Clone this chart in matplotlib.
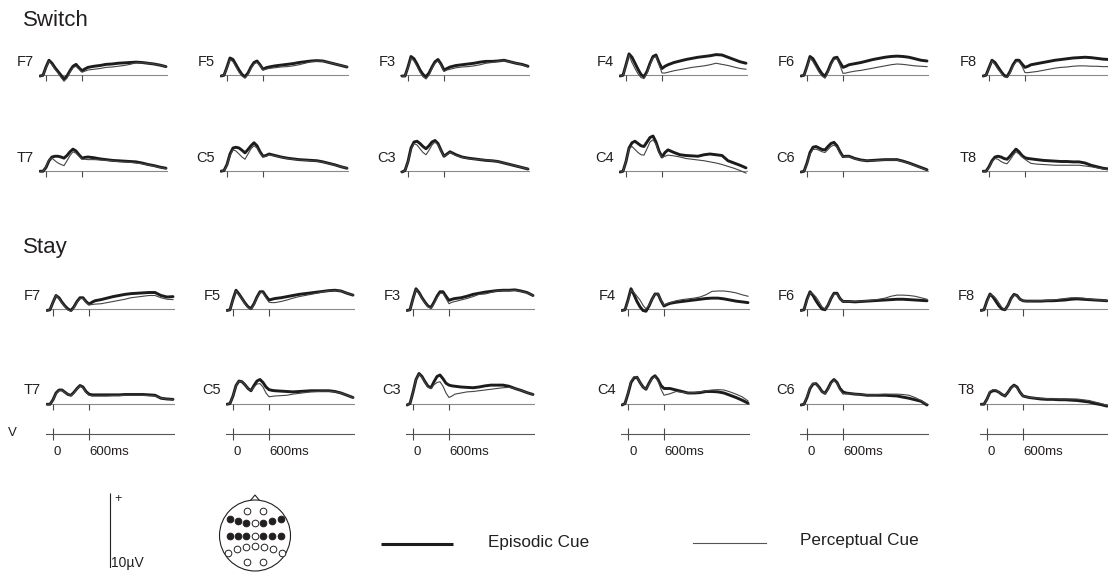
import matplotlib
matplotlib.use('Agg')
import matplotlib.pyplot as plt
from matplotlib.patches import Circle, Polygon

plt.rcParams['font.family'] = ['Liberation Sans', 'DejaVu Sans']

# ---------------- data (µV, positive up) ----------------
times = [-100, -50, 0, 50, 100, 150, 200, 250, 300, 350, 400, 450, 500, 550, 600,
         650, 700, 800, 900, 1000, 1100, 1200, 1300, 1400, 1500, 1600, 1700, 1800, 1900, 2000]

conditions = ['Switch', 'Stay']
frontal_channels = ['F7', 'F5', 'F3', 'F4', 'F6', 'F8']
central_channels = ['T7', 'C5', 'C3', 'C4', 'C6', 'T8']
cue_labels = ['Episodic Cue', 'Perceptual Cue']
time_tick_labels = ['0', '600ms']
time_ticks = [0, 600]
scale_bar_uv = 10

# Switch, frontal row
sw_F7_epi = [-0.2,-0.1,1.0,1.9,1.5,0.9,0.4,-0.1,-0.6,-0.2,0.5,1.1,1.35,0.9,0.5,0.75,0.95,1.1,1.2,1.35,1.4,1.5,1.55,1.6,1.65,1.6,1.5,1.4,1.25,1.05]
sw_F7_per = [-0.2,-0.1,0.9,1.8,1.3,0.7,0.2,-0.4,-0.9,-0.5,0.3,0.9,1.1,0.7,0.3,0.45,0.6,0.7,0.8,0.95,1.0,1.1,1.2,1.35,1.55,1.55,1.5,1.4,1.25,1.05]
sw_F5_epi = [-0.2,-0.1,1.0,2.2,2.0,1.3,0.6,0.0,-0.3,0.2,1.0,1.6,1.8,1.3,0.7,0.9,1.0,1.15,1.25,1.35,1.45,1.6,1.7,1.8,1.85,1.8,1.6,1.4,1.2,1.0]
sw_F5_per = [-0.2,-0.1,0.9,2.0,1.7,1.0,0.3,-0.2,-0.5,0.0,0.8,1.4,1.6,1.2,0.6,0.7,0.8,0.9,1.0,1.05,1.15,1.3,1.5,1.7,1.8,1.75,1.6,1.4,1.2,1.0]
sw_F3_epi = [-0.2,-0.2,1.0,2.4,2.1,1.4,0.6,0.0,-0.3,0.2,1.0,1.7,2.0,1.4,0.6,0.8,1.0,1.2,1.3,1.4,1.5,1.65,1.75,1.75,1.8,1.9,1.7,1.5,1.35,1.1]
sw_F3_per = [-0.2,-0.2,0.9,2.2,1.8,1.1,0.3,-0.3,-0.6,-0.1,0.8,1.5,1.8,1.2,0.4,0.6,0.7,0.9,1.0,1.05,1.15,1.3,1.5,1.6,1.75,1.85,1.7,1.5,1.3,1.0]
sw_F4_epi = [-0.2,-0.1,1.3,2.75,2.3,1.5,0.7,0.0,-0.3,0.4,1.5,2.4,2.6,1.6,0.8,1.1,1.3,1.6,1.8,2.0,2.15,2.3,2.4,2.5,2.65,2.6,2.3,2.0,1.7,1.5]
sw_F4_per = [-0.2,-0.1,1.2,2.6,1.6,0.8,0.1,-0.4,-0.55,0.2,1.3,2.2,2.4,1.3,0.2,0.2,0.3,0.5,0.65,0.8,0.95,1.05,1.15,1.3,1.5,1.35,1.2,1.0,0.8,0.7]
sw_F6_epi = [-0.2,-0.1,1.1,2.4,2.1,1.4,0.7,0.1,-0.25,0.5,1.5,2.2,2.3,1.6,0.95,1.1,1.3,1.45,1.6,1.8,2.0,2.15,2.3,2.4,2.45,2.4,2.3,2.1,1.9,1.8]
sw_F6_per = [-0.2,-0.1,1.0,2.2,1.7,1.0,0.3,-0.2,-0.5,0.3,1.3,2.0,2.1,1.2,0.15,0.2,0.3,0.45,0.55,0.7,0.85,1.0,1.15,1.3,1.4,1.35,1.25,1.15,1.1,1.05]
sw_F8_epi = [-0.2,-0.1,0.9,1.9,1.6,1.0,0.4,-0.1,-0.3,0.4,1.3,1.9,1.9,1.4,0.95,1.1,1.3,1.45,1.6,1.75,1.9,2.0,2.1,2.2,2.25,2.3,2.25,2.15,2.05,2.0]
sw_F8_per = [-0.2,-0.1,0.8,1.8,1.3,0.7,0.2,-0.3,-0.4,0.2,1.1,1.7,1.7,1.1,0.25,0.25,0.3,0.4,0.55,0.7,0.85,0.95,1.0,1.1,1.15,1.15,1.1,1.1,1.05,1.05]

# Switch, central/temporal row
sw_T7_epi = [-0.1,-0.1,0.4,1.3,1.8,1.9,1.9,1.8,1.65,2.0,2.5,2.85,2.6,2.1,1.65,1.75,1.8,1.7,1.55,1.45,1.35,1.3,1.25,1.2,1.15,1.0,0.8,0.65,0.45,0.3]
sw_T7_per = [-0.1,-0.1,0.5,1.4,1.65,1.3,1.0,0.8,0.65,1.3,2.0,2.5,2.3,1.9,1.5,1.5,1.45,1.45,1.4,1.35,1.3,1.2,1.15,1.1,1.0,0.9,0.75,0.6,0.4,0.25]
sw_C5_epi = [-0.1,0.0,0.8,2.2,3.0,3.1,3.0,2.7,2.35,2.8,3.3,3.7,3.3,2.5,1.9,2.0,2.2,2.0,1.8,1.65,1.55,1.45,1.4,1.35,1.3,1.15,0.95,0.75,0.5,0.3]
sw_C5_per = [-0.1,0.0,0.7,2.0,2.75,2.6,2.2,1.8,1.5,2.2,2.9,3.3,3.0,2.3,1.8,1.9,2.1,1.95,1.75,1.6,1.5,1.4,1.35,1.3,1.25,1.1,0.9,0.7,0.5,0.3]
sw_C3_epi = [-0.2,0.0,1.2,3.0,3.8,3.9,3.6,3.2,2.9,3.3,3.8,4.0,3.6,2.7,1.9,2.2,2.5,2.1,1.8,1.65,1.55,1.45,1.35,1.3,1.2,1.0,0.8,0.6,0.4,0.2]
sw_C3_per = [-0.2,0.0,1.1,2.8,3.6,3.4,2.9,2.4,2.1,2.7,3.4,3.8,3.4,2.6,1.9,2.1,2.4,2.0,1.75,1.6,1.5,1.45,1.4,1.3,1.2,1.0,0.8,0.6,0.4,0.2]
sw_C4_epi = [-0.2,-0.1,1.2,3.0,3.7,3.9,3.6,3.3,3.2,3.8,4.4,4.6,3.8,2.6,1.8,2.4,2.75,2.4,2.1,2.0,1.95,1.9,2.1,2.2,2.1,2.0,1.3,1.0,0.7,0.35]
sw_C4_per = [-0.2,-0.1,1.2,2.9,3.2,2.8,2.4,2.1,2.05,2.9,3.8,4.1,3.5,2.4,1.75,1.9,2.05,1.95,1.8,1.6,1.5,1.4,1.3,1.15,1.0,0.8,0.55,0.3,0.0,-0.35]
sw_C6_epi = [-0.2,-0.1,1.0,2.4,3.1,3.2,3.0,2.8,2.75,3.2,3.6,3.75,3.3,2.5,1.85,1.9,1.9,1.6,1.4,1.3,1.35,1.4,1.45,1.45,1.45,1.25,1.0,0.7,0.4,0.1]
sw_C6_per = [-0.2,-0.1,0.9,2.2,2.8,2.85,2.7,2.5,2.4,2.8,3.2,3.4,3.1,2.3,1.8,1.85,1.85,1.55,1.35,1.3,1.3,1.35,1.4,1.4,1.4,1.2,0.95,0.65,0.35,0.05]
sw_T8_epi = [-0.1,-0.1,0.5,1.3,1.8,1.9,1.8,1.6,1.5,1.9,2.4,2.85,2.5,2.0,1.7,1.6,1.55,1.45,1.35,1.3,1.25,1.2,1.2,1.15,1.15,1.0,0.7,0.5,0.3,0.2]
sw_T8_per = [-0.1,-0.1,0.4,1.2,1.6,1.5,1.2,1.0,0.9,1.4,2.0,2.5,2.2,1.8,1.5,1.2,0.95,0.85,0.8,0.75,0.7,0.7,0.7,0.7,0.7,0.6,0.5,0.35,0.2,0.1]

# Stay, frontal row
st_F7_epi = [-0.2,-0.1,0.9,1.8,1.5,0.9,0.4,0.0,-0.2,0.3,1.0,1.5,1.5,1.0,0.65,0.9,1.1,1.25,1.45,1.65,1.8,1.95,2.05,2.1,2.15,2.2,2.2,1.8,1.6,1.65]
st_F7_per = [-0.2,-0.1,0.9,1.8,1.4,0.8,0.3,-0.1,-0.3,0.2,0.9,1.4,1.4,0.9,0.55,0.6,0.65,0.7,0.85,1.0,1.15,1.3,1.5,1.6,1.7,1.8,1.8,1.5,1.3,1.25]
st_F5_epi = [-0.2,-0.1,1.3,2.5,2.0,1.4,0.8,0.3,0.05,0.7,1.6,2.3,2.3,1.7,1.2,1.3,1.4,1.5,1.65,1.8,1.95,2.05,2.15,2.25,2.35,2.45,2.5,2.4,2.1,1.85]
st_F5_per = [-0.2,-0.1,1.2,2.4,1.9,1.3,0.7,0.2,0.0,0.6,1.5,2.2,2.2,1.5,0.9,0.85,0.85,1.0,1.2,1.45,1.65,1.8,1.95,2.1,2.3,2.4,2.45,2.4,2.1,1.85]
st_F3_epi = [-0.2,-0.1,1.4,2.7,2.2,1.5,0.9,0.4,0.2,0.9,1.7,2.3,2.3,1.7,1.15,1.3,1.4,1.5,1.7,1.95,2.1,2.25,2.35,2.45,2.5,2.5,2.55,2.4,2.2,1.8]
st_F3_per = [-0.2,-0.1,1.3,2.6,2.1,1.4,0.8,0.3,0.1,0.7,1.5,2.1,2.1,1.4,0.7,0.9,1.0,1.2,1.4,1.65,1.95,2.0,2.2,2.4,2.45,2.45,2.5,2.35,2.15,1.8]
st_F4_epi = [-0.2,-0.1,1.2,2.7,1.9,1.0,0.3,-0.2,-0.3,0.4,1.3,2.0,2.0,1.1,0.4,0.6,0.75,0.9,1.0,1.1,1.2,1.3,1.4,1.45,1.45,1.35,1.2,1.05,0.95,0.85]
st_F4_per = [-0.2,-0.1,1.0,2.5,2.2,1.7,1.2,0.5,0.0,0.5,1.3,2.0,2.0,1.2,0.5,0.7,0.85,1.1,1.25,1.35,1.45,1.6,1.9,2.35,2.4,2.4,2.3,2.15,1.9,1.7]
st_F6_epi = [-0.2,-0.1,1.3,2.3,1.8,1.1,0.5,0.0,-0.1,0.5,1.4,2.1,2.1,1.4,1.0,1.0,1.0,0.95,1.0,1.05,1.1,1.15,1.2,1.25,1.3,1.3,1.25,1.2,1.15,1.1]
st_F6_per = [-0.2,-0.1,1.1,2.2,2.0,1.6,1.0,0.3,0.0,0.5,1.4,2.0,2.0,1.4,1.0,1.0,1.0,1.0,1.05,1.1,1.2,1.3,1.45,1.7,1.85,1.85,1.8,1.7,1.5,1.3]
st_F8_epi = [-0.2,-0.1,1.1,2.0,1.6,1.0,0.4,0.0,-0.1,0.5,1.4,1.95,1.8,1.3,1.1,1.05,1.05,1.05,1.05,1.1,1.1,1.15,1.2,1.3,1.35,1.3,1.25,1.2,1.15,1.1]
st_F8_per = [-0.2,-0.1,1.0,1.9,1.8,1.4,0.8,0.2,-0.1,0.5,1.3,1.9,1.8,1.3,1.1,1.05,1.05,1.1,1.1,1.15,1.2,1.3,1.4,1.5,1.5,1.45,1.35,1.25,1.2,1.1]

# Stay, central/temporal row
st_T7_epi = [-0.1,-0.1,0.5,1.4,1.8,1.8,1.5,1.2,1.1,1.5,2.0,2.4,2.2,1.6,1.25,1.15,1.15,1.15,1.15,1.15,1.15,1.2,1.2,1.2,1.2,1.15,1.1,0.7,0.6,0.55]
st_T7_per = [-0.1,-0.1,0.5,1.3,1.75,1.75,1.45,1.2,1.05,1.45,1.95,2.35,2.1,1.5,1.1,1.0,1.0,1.0,1.0,1.05,1.05,1.1,1.1,1.1,1.1,1.05,1.0,0.7,0.6,0.55]
st_C5_epi = [-0.1,0.0,1.0,2.4,3.0,2.9,2.5,2.0,1.7,2.4,3.0,3.2,2.8,2.2,1.85,1.75,1.7,1.65,1.6,1.55,1.6,1.65,1.7,1.7,1.7,1.7,1.6,1.4,1.1,0.8]
st_C5_per = [-0.1,0.0,1.0,2.4,3.0,2.9,2.5,2.0,1.7,2.2,2.6,2.65,2.2,1.4,0.9,0.95,1.0,1.05,1.1,1.25,1.35,1.45,1.55,1.6,1.65,1.65,1.55,1.4,1.1,0.8]
st_C3_epi = [-0.2,0.0,1.5,3.2,4.0,3.6,2.9,2.3,2.1,2.9,3.6,3.8,3.3,2.7,2.45,2.35,2.3,2.2,2.15,2.1,2.2,2.35,2.45,2.45,2.45,2.3,2.0,1.75,1.45,1.2]
st_C3_per = [-0.2,0.0,1.5,3.2,3.9,3.5,2.8,2.2,2.0,2.5,2.8,2.9,2.3,1.4,0.8,1.0,1.25,1.4,1.55,1.6,1.7,1.8,1.9,2.0,2.1,2.15,2.0,1.75,1.45,1.2]
st_C4_epi = [-0.2,0.0,1.3,2.8,3.4,3.5,2.8,2.2,1.9,2.7,3.4,3.7,3.2,2.4,2.0,2.0,2.0,1.8,1.6,1.4,1.4,1.45,1.6,1.6,1.55,1.4,1.1,0.8,0.45,0.05]
st_C4_per = [-0.2,0.0,1.4,3.0,3.6,3.5,2.8,2.2,1.9,2.6,3.3,3.55,3.0,1.9,1.1,1.2,1.3,1.6,1.5,1.4,1.45,1.55,1.7,1.8,1.85,1.8,1.55,1.25,0.9,0.35]
st_C6_epi = [-0.2,-0.1,0.8,2.0,2.6,2.65,2.2,1.6,1.35,2.0,2.8,3.2,2.8,2.0,1.55,1.4,1.35,1.25,1.2,1.1,1.1,1.1,1.1,1.05,1.0,0.85,0.7,0.5,0.3,-0.2]
st_C6_per = [-0.2,-0.1,0.9,2.1,2.7,2.6,2.1,1.6,1.3,1.9,2.7,3.1,2.7,1.8,1.25,1.3,1.3,1.25,1.2,1.15,1.15,1.2,1.25,1.25,1.25,1.2,1.1,0.8,0.4,-0.1]
st_T8_epi = [-0.1,-0.1,0.6,1.5,1.7,1.7,1.5,1.2,1.0,1.5,2.1,2.45,2.2,1.5,1.0,0.9,0.8,0.7,0.6,0.55,0.55,0.5,0.5,0.45,0.4,0.3,0.2,0.0,-0.15,-0.35]
st_T8_per = [-0.1,-0.1,0.6,1.6,1.85,1.8,1.5,1.2,1.0,1.5,2.0,2.4,2.1,1.5,1.0,0.9,0.8,0.75,0.7,0.65,0.65,0.6,0.6,0.6,0.6,0.5,0.4,0.2,0.0,-0.25]

waves = {
    ('Switch', 'F7'): (sw_F7_epi, sw_F7_per), ('Switch', 'F5'): (sw_F5_epi, sw_F5_per),
    ('Switch', 'F3'): (sw_F3_epi, sw_F3_per), ('Switch', 'F4'): (sw_F4_epi, sw_F4_per),
    ('Switch', 'F6'): (sw_F6_epi, sw_F6_per), ('Switch', 'F8'): (sw_F8_epi, sw_F8_per),
    ('Switch', 'T7'): (sw_T7_epi, sw_T7_per), ('Switch', 'C5'): (sw_C5_epi, sw_C5_per),
    ('Switch', 'C3'): (sw_C3_epi, sw_C3_per), ('Switch', 'C4'): (sw_C4_epi, sw_C4_per),
    ('Switch', 'C6'): (sw_C6_epi, sw_C6_per), ('Switch', 'T8'): (sw_T8_epi, sw_T8_per),
    ('Stay', 'F7'): (st_F7_epi, st_F7_per), ('Stay', 'F5'): (st_F5_epi, st_F5_per),
    ('Stay', 'F3'): (st_F3_epi, st_F3_per), ('Stay', 'F4'): (st_F4_epi, st_F4_per),
    ('Stay', 'F6'): (st_F6_epi, st_F6_per), ('Stay', 'F8'): (st_F8_epi, st_F8_per),
    ('Stay', 'T7'): (st_T7_epi, st_T7_per), ('Stay', 'C5'): (st_C5_epi, st_C5_per),
    ('Stay', 'C3'): (st_C3_epi, st_C3_per), ('Stay', 'C4'): (st_C4_epi, st_C4_per),
    ('Stay', 'C6'): (st_C6_epi, st_C6_per), ('Stay', 'T8'): (st_T8_epi, st_T8_per),
}
for k, (a, b) in waves.items():
    if len(a) != len(times) or len(b) != len(times):
        raise ValueError(f'bad length {k}: {len(a)} {len(b)}')

# ---------------- layout (pixels) ----------------
W, H = 1108, 573
fig = plt.figure(figsize=(W / 100, H / 100), dpi=100)

PX_PER_MS = 36 / 600
PX_PER_UV = 7.5
XLIM = (-125, 2035)
YLIM = (-1.5, 5.0)

col_zero_x = {'Switch': [46, 227, 408, 626, 807, 989],
              'Stay': [53, 233, 413, 628, 807, 987]}
row_base_y = {'Switch': [74.5, 170.5], 'Stay': [309, 403.5]}
title_y = {'Switch': 20, 'Stay': 247}
axis_row_y = 434

INK = '#231f20'
THICK = '#1c1c1c'
THIN = '#444444'
BASE = '#8a8a8a'
TICK = '#4a4a4a'

over = fig.add_axes([0, 0, 1, 1], zorder=0)
over.set_xlim(0, W)
over.set_ylim(H, 0)
over.set_axis_off()


def panel_axes(x0, y0, ylim=YLIM):
    left = x0 + XLIM[0] * PX_PER_MS
    width = (XLIM[1] - XLIM[0]) * PX_PER_MS
    top = y0 - ylim[1] * PX_PER_UV
    height = (ylim[1] - ylim[0]) * PX_PER_UV
    ax = fig.add_axes([left / W, 1 - (top + height) / H, width / W, height / H], zorder=2)
    ax.set_xlim(XLIM)
    ax.set_ylim(ylim)
    ax.set_axis_off()
    ax.patch.set_alpha(0)
    return ax


for cond in conditions:
    over.text(23, title_y[cond], cond, fontsize=16, color=INK, ha='left', va='center')
    for r, chans in enumerate([frontal_channels, central_channels]):
        y0 = row_base_y[cond][r]
        for c, ch in enumerate(chans):
            x0 = col_zero_x[cond][c]
            ax = panel_axes(x0, y0)
            ax.axhline(0, color=BASE, lw=0.8, zorder=1)
            ax.vlines(time_ticks, -0.9, 0, color=TICK, lw=0.8, zorder=1)
            epi, per = waves[(cond, ch)]
            ax.plot(times, epi, color=THICK, lw=2.1, solid_joinstyle='round',
                    solid_capstyle='round', zorder=3)
            ax.plot(times, per, color=THIN, lw=0.8, zorder=4)
            over.text(x0 - 12, y0 - 13, ch, fontsize=10.5, color=INK, ha='right', va='center')

# time axis row
over.text(8, axis_row_y - 1, 'V', fontsize=9.5, color=INK, ha='left', va='center')
for x0 in col_zero_x['Stay']:
    ax = panel_axes(x0, axis_row_y, ylim=(-2.0, 2.0))
    ax.axhline(0, color='#555555', lw=0.8)
    ax.vlines(time_ticks, -0.75, 0.75, color=TICK, lw=0.8)
    over.text(x0 + 1 + time_ticks[0] * PX_PER_MS, 452, time_tick_labels[0], fontsize=9.5,
              color=INK, ha='left', va='center')
    over.text(x0 + time_ticks[1] * PX_PER_MS, 452, time_tick_labels[1], fontsize=9.5,
              color=INK, ha='left', va='center')

# amplitude scale bar
bar_bottom, bar_x = 568, 109.5
sb = fig.add_axes([(bar_x - 5) / W, 1 - bar_bottom / H, 10 / W,
                   scale_bar_uv * PX_PER_UV / H], zorder=2)
sb.set_xlim(0, 1)
sb.set_ylim(0, scale_bar_uv)
sb.set_axis_off()
sb.patch.set_alpha(0)
sb.vlines(0.5, 0, scale_bar_uv, color=INK, lw=0.8)
over.text(114, 499, '+', fontsize=9, color=INK, ha='left', va='center')
over.text(111.5, 563, f'{scale_bar_uv}µV', fontsize=10, color=INK, ha='left', va='center')

# electrode montage
head = fig.add_axes([210 / W, 1 - 575 / H, 90 / W, 85 / H], zorder=2)
head.set_xlim(210, 300)
head.set_ylim(575, 490)
head.set_axis_off()
head.patch.set_alpha(0)
cx, cy, rad = 255, 535.5, 35.5
head.add_patch(Circle((cx, cy), rad, fill=False, ec=INK, lw=0.8))
head.add_patch(Polygon([(cx - 4.5, cy - rad + 0.5), (cx, cy - rad - 5), (cx + 4.5, cy - rad + 0.5)],
                       closed=False, fill=False, ec=INK, lw=0.8))
montage_rows = [
    ([-7.7, 8.3], [-24.5, -24.5], [False, False]),
    ([-25, -16.7, -9, 0, 8.3, 16.7, 26], [-16.5, -14.8, -12.8, -12.2, -12.8, -14.8, -16.5],
     [True, True, True, False, True, True, True]),
    ([-25, -16.7, -9, 0, 8.3, 16.7, 26], [0.5, 0.5, 0.5, 0.5, 0.5, 0.5, 0.5],
     [True, True, True, False, True, True, True]),
    ([-26.7, -18.3, -9, 0, 9, 18.3, 26.7], [17.8, 13.5, 11.2, 10.2, 11.2, 13.5, 17.8],
     [False] * 7),
    ([-7.7, 8.3], [26.5, 26.5], [False, False]),
]
for xs, ys, filled in montage_rows:
    for dx, dy, f in zip(xs, ys, filled):
        head.plot(cx + dx, cy + dy, marker='o', ms=4.8, mew=0.7, mec=INK,
                  mfc=INK if f else 'white', ls='none')

# legend
over.plot([381, 453], [543.5, 543.5], color=THICK, lw=2.2, solid_capstyle='butt')
over.text(488, 543, cue_labels[0], fontsize=12.3, color=INK, ha='left', va='center')
over.plot([693, 766], [542.5, 542.5], color='#555555', lw=0.8)
over.text(800, 540, cue_labels[1], fontsize=12.3, color=INK, ha='left', va='center')

fig.savefig('out.png', dpi=100)
